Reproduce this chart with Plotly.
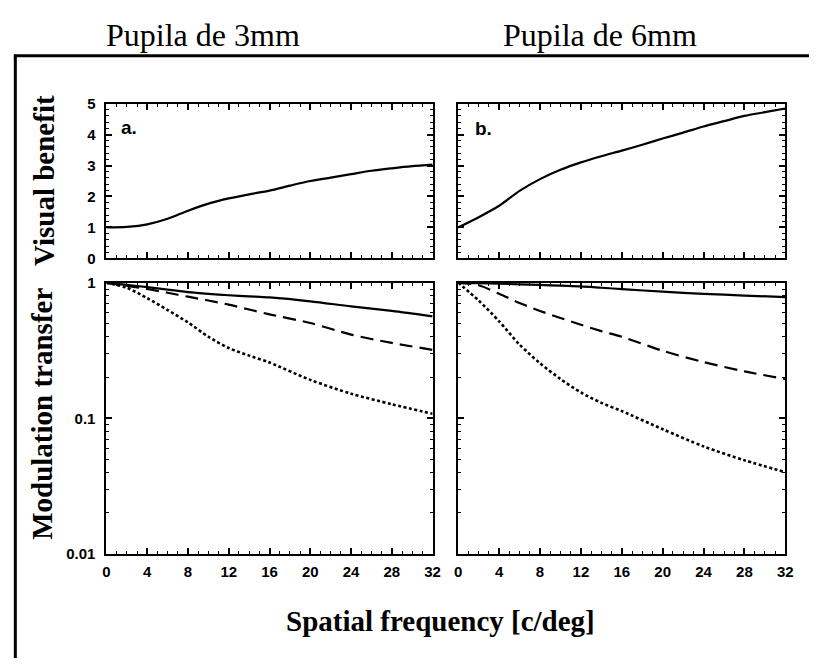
import plotly.graph_objects as go

# ---------------- data ----------------
freq_top = [0, 2, 4, 6, 8, 10, 12, 14, 16, 18, 20, 22, 24, 26, 28, 30, 32]
benefit_3mm = [1.0, 1.02, 1.10, 1.28, 1.54, 1.77, 1.94, 2.07, 2.19, 2.35, 2.50, 2.61, 2.72, 2.83, 2.91, 2.98, 3.03]
benefit_6mm = [1.0, 1.33, 1.70, 2.18, 2.56, 2.86, 3.10, 3.30, 3.48, 3.67, 3.87, 4.06, 4.26, 4.43, 4.60, 4.72, 4.84]

freq_mtf = [0, 2, 4, 6, 8, 10, 12, 14, 16, 20, 24, 28, 32]
mtf_3mm_solid = [1.0, 0.965, 0.93, 0.89, 0.855, 0.83, 0.81, 0.795, 0.78, 0.73, 0.67, 0.62, 0.565]
mtf_3mm_dashed = [1.0, 0.95, 0.90, 0.845, 0.79, 0.74, 0.69, 0.635, 0.585, 0.505, 0.415, 0.36, 0.32]
mtf_3mm_dotted = [1.0, 0.92, 0.77, 0.63, 0.51, 0.40, 0.33, 0.29, 0.258, 0.192, 0.152, 0.127, 0.108]

mtf_6mm_solid = [1.0, 0.993, 0.985, 0.975, 0.965, 0.952, 0.94, 0.92, 0.90, 0.86, 0.83, 0.805, 0.785]
mtf_6mm_dashed = [1.0, 0.96, 0.83, 0.71, 0.62, 0.55, 0.49, 0.44, 0.40, 0.315, 0.26, 0.222, 0.195]
mtf_6mm_dotted = [1.0, 0.74, 0.52, 0.35, 0.255, 0.195, 0.155, 0.13, 0.113, 0.083, 0.062, 0.049, 0.040]

x_ticks = [0, 4, 8, 12, 16, 20, 24, 28, 32]
benefit_ticks = [0, 1, 2, 3, 4, 5]
mtf_ticks = [0.01, 0.1, 1]
mtf_ticktext = ["0.01", "0.1", "1"]
mtf_minor = [k * 10 ** e for e in (-2, -1) for k in range(2, 10)]

titles = ["Pupila de 3mm", "Pupila de 6mm"]
panel_labels = ["a.", "b."]

# ---------------- layout helpers ----------------
W, H = 817, 666
def fx(p):
    return p / W
def fy(p):
    return 1 - p / H

xa = [fx(104), fx(435)]
xb = [fx(461), fx(793)]
y_top = [fy(256), fy(97)]
y_bot = [fy(559), fy(281)]

fig = go.Figure()

def add(x, y, xa_, ya_, dash):
    fig.add_trace(go.Scatter(x=x, y=y, mode="lines", xaxis=xa_, yaxis=ya_,
                             line=dict(color="black", width=2.2 if dash != "dot" else 2.6,
                                       dash={"solid": "solid", "dash": "13px,7px", "dot": "3px,2.5px"}[dash],
                                       shape="spline", smoothing=0.8),
                             showlegend=False, hoverinfo="skip"))

add(freq_top, benefit_3mm, "x", "y", "solid")
add(freq_top, benefit_6mm, "x2", "y2", "solid")
add(freq_mtf, mtf_3mm_solid, "x3", "y3", "solid")
add(freq_mtf, mtf_3mm_dashed, "x3", "y3", "dash")
add(freq_mtf, mtf_3mm_dotted, "x3", "y3", "dot")
add(freq_mtf, mtf_6mm_solid, "x4", "y4", "solid")
add(freq_mtf, mtf_6mm_dashed, "x4", "y4", "dash")
add(freq_mtf, mtf_6mm_dotted, "x4", "y4", "dot")

tickfont = dict(family="Liberation Sans", size=15, color="black", weight="bold")
common = dict(showline=True, linecolor="black", linewidth=2, mirror="ticks",
              ticks="inside", ticklen=6, tickwidth=1.5, tickcolor="black",
              showgrid=False, zeroline=False, tickfont=tickfont, fixedrange=True)
minor_lin_x = dict(dtick=1, ticks="inside", ticklen=3, tickwidth=1, tickcolor="black", showgrid=False)
minor_lin_y = dict(dtick=0.2, ticks="inside", ticklen=3, tickwidth=1, tickcolor="black", showgrid=False)
minor_log = dict(tickmode="array", tickvals=mtf_minor, ticks="inside", ticklen=3, tickwidth=1,
                 tickcolor="black", showgrid=False)

fig.update_layout(
    width=W, height=H,
    margin=dict(l=0, r=0, t=0, b=0),
    paper_bgcolor="white", plot_bgcolor="white",
    xaxis=dict(domain=xa, anchor="y", range=[0, 32], tickvals=x_ticks, showticklabels=False,
               minor=minor_lin_x, **common),
    yaxis=dict(domain=y_top, anchor="x", range=[0, 5], tickvals=benefit_ticks,
               ticklabelstandoff=6, minor=minor_lin_y, **common),
    xaxis2=dict(domain=xb, anchor="y2", range=[0, 32], tickvals=x_ticks, showticklabels=False,
                minor=minor_lin_x, **common),
    yaxis2=dict(domain=y_top, anchor="x2", range=[0, 5], tickvals=benefit_ticks, showticklabels=False,
                minor=minor_lin_y, **common),
    xaxis3=dict(domain=xa, anchor="y3", range=[0, 32], tickvals=x_ticks, ticklabelstandoff=3,
                minor=minor_lin_x, **common),
    yaxis3=dict(domain=y_bot, anchor="x3", type="log", range=[-2, 0], tickvals=mtf_ticks,
                ticktext=mtf_ticktext, ticklabelstandoff=6, minor=minor_log, **common),
    xaxis4=dict(domain=xb, anchor="y4", range=[0, 32], tickvals=x_ticks, ticklabelstandoff=3,
                minor=minor_lin_x, **common),
    yaxis4=dict(domain=y_bot, anchor="x4", type="log", range=[-2, 0], tickvals=mtf_ticks,
                ticktext=mtf_ticktext, showticklabels=False, minor=minor_log, **common),
)

serif_bold = dict(family="Liberation Serif", size=29, color="black", weight="bold")
title_font = dict(family="Liberation Serif", size=32, color="black")
label_font = dict(family="Liberation Sans", size=19, color="black", weight="bold")
ann = [
    dict(text=titles[0], x=fx(202), y=fy(27), font=title_font),
    dict(text=titles[1], x=fx(605), y=fy(27), font=title_font),
    dict(text="Visual benefit", x=fx(40), y=fy(176), textangle=-90, font=serif_bold),
    dict(text="Modulation transfer", x=fx(39), y=fy(415), textangle=-90, font=serif_bold),
    dict(text="Spatial frequency [c/deg]", x=fx(443), y=fy(628), font=serif_bold),
    dict(text=panel_labels[0], x=fx(117), y=fy(122), xanchor="left", font=label_font),
    dict(text=panel_labels[1], x=fx(476), y=fy(123), xanchor="left", font=label_font),
]
for a in ann:
    a.setdefault("xanchor", "center")
    a.update(xref="paper", yref="paper", showarrow=False, yanchor="middle")
fig.update_layout(annotations=ann)

# outer frame lines (decoration)
fig.update_layout(shapes=[
    dict(type="line", xref="paper", yref="paper", x0=fx(10), x1=1, y0=fy(48), y1=fy(48),
         line=dict(color="black", width=3)),
    dict(type="line", xref="paper", yref="paper", x0=fx(11.5), x1=fx(11.5), y0=fy(47), y1=0,
         line=dict(color="black", width=3)),
])

fig.write_html("out.html", config={"displayModeBar": False},
               post_script="document.body.style.margin='0';document.body.style.overflow='hidden';")
